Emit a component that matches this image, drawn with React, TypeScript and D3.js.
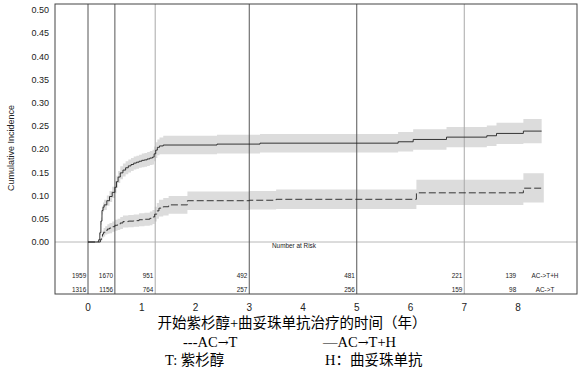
import React, { useRef, useEffect } from 'react';
import * as d3 from 'd3';

// AC->T+H (solid)
const thTime = [0, 0.19, 0.2, 0.22, 0.24, 0.26, 0.28, 0.3, 0.35, 0.4, 0.45, 0.5, 0.53, 0.56, 0.6, 0.65, 0.7, 0.75, 0.8, 0.85, 0.9, 0.95, 1.0, 1.05, 1.1, 1.15, 1.2, 1.23, 1.26, 1.29, 1.33, 1.4, 2.4, 3.2, 5.77, 6.05, 6.67, 7.42, 7.6, 8.1, 8.44];
const thCI = [0, 0.002, 0.005, 0.02, 0.045, 0.068, 0.075, 0.08, 0.089, 0.098, 0.107, 0.118, 0.13, 0.14, 0.149, 0.155, 0.16, 0.164, 0.167, 0.17, 0.172, 0.174, 0.176, 0.177, 0.179, 0.181, 0.183, 0.19, 0.198, 0.204, 0.207, 0.209, 0.211, 0.213, 0.216, 0.221, 0.226, 0.229, 0.234, 0.239, 0.239];
const thLow = [0, 0.001, 0.003, 0.015, 0.037, 0.059, 0.065, 0.069, 0.078, 0.086, 0.095, 0.105, 0.117, 0.127, 0.135, 0.141, 0.146, 0.15, 0.153, 0.156, 0.158, 0.16, 0.161, 0.162, 0.164, 0.166, 0.167, 0.174, 0.181, 0.187, 0.189, 0.189, 0.191, 0.193, 0.195, 0.199, 0.204, 0.207, 0.211, 0.213, 0.213];
const thHigh = [0, 0.003, 0.007, 0.025, 0.053, 0.077, 0.085, 0.091, 0.1, 0.11, 0.119, 0.131, 0.143, 0.153, 0.163, 0.169, 0.174, 0.178, 0.181, 0.184, 0.186, 0.188, 0.191, 0.192, 0.194, 0.196, 0.199, 0.206, 0.215, 0.221, 0.225, 0.229, 0.231, 0.233, 0.237, 0.243, 0.248, 0.251, 0.257, 0.265, 0.265];

// AC->T (dashed)
const tTime = [0, 0.23, 0.25, 0.27, 0.29, 0.32, 0.36, 0.4, 0.45, 0.5, 0.55, 0.6, 0.65, 0.75, 0.85, 0.95, 1.05, 1.15, 1.2, 1.24, 1.28, 1.32, 1.4, 1.5, 1.85, 3.0, 3.5, 6.11, 8.1, 8.48];
const tCI = [0, 0.005, 0.01, 0.017, 0.021, 0.025, 0.028, 0.03, 0.033, 0.036, 0.038, 0.041, 0.044, 0.045, 0.046, 0.048, 0.049, 0.051, 0.054, 0.06, 0.067, 0.073, 0.076, 0.08, 0.089, 0.09, 0.092, 0.106, 0.116, 0.116];
const tLow = [0, 0.002, 0.004, 0.009, 0.012, 0.016, 0.018, 0.019, 0.022, 0.024, 0.026, 0.028, 0.031, 0.032, 0.033, 0.034, 0.035, 0.036, 0.039, 0.044, 0.05, 0.055, 0.057, 0.061, 0.069, 0.07, 0.071, 0.08, 0.085, 0.085];
const tHigh = [0, 0.008, 0.016, 0.025, 0.03, 0.034, 0.038, 0.041, 0.044, 0.048, 0.05, 0.054, 0.057, 0.058, 0.059, 0.062, 0.063, 0.066, 0.069, 0.076, 0.084, 0.091, 0.095, 0.099, 0.109, 0.11, 0.113, 0.134, 0.148, 0.148];

// number at risk
const riskTimes = [0, 0.5, 1.25, 3, 5, 7, 8];
const riskTH = [1959, 1670, 951, 492, 481, 221, 139];
const riskT = [1316, 1156, 764, 257, 256, 159, 98];
const riskLines = [0, 0.5, 1.25, 3, 5, 7];
const riskLineDark = [true, true, false, true, true, false];

const yTicks = [0, 0.05, 0.1, 0.15, 0.2, 0.25, 0.3, 0.35, 0.4, 0.45, 0.5];
const xTicks = [0, 1, 2, 3, 4, 5, 6, 7, 8];

const App = () => {
  const svgRef = useRef<SVGSVGElement>(null);

  useEffect(() => {
    const svg = d3.select(svgRef.current);
    svg.selectAll('*').remove();

    const frame = { left: 55, right: 577, top: 4, bottom: 294 };
    const x = d3.scaleLinear().domain([0, 8]).range([88, 518]);
    const y = d3.scaleLinear().domain([0, 0.5]).range([242, 10]);
    const sans = 'Liberation Sans, Arial, sans-serif';
    const serif = '"Liberation Serif", "Times New Roman", "Noto Sans CJK SC", serif';

    // confidence bands
    const band = (time: number[], lo: number[], hi: number[]) => {
      const pts = time.map((t, i) => ({ t, lo: lo[i], hi: hi[i] }));
      svg.append('path')
        .attr('d', d3.area<any>().curve(d3.curveStepAfter)
          .x((d) => x(d.t)).y0((d) => y(d.lo)).y1((d) => y(d.hi))(pts))
        .attr('fill', '#dcdcdc');
    };
    band(thTime, thLow, thHigh);
    band(tTime, tLow, tHigh);

    // zero line
    svg.append('line')
      .attr('x1', frame.left).attr('x2', frame.right)
      .attr('y1', y(0)).attr('y2', y(0))
      .attr('stroke', '#b8b8b8').attr('stroke-width', 1);

    // risk-time lines
    riskLines.forEach((t, i) => {
      svg.append('line')
        .attr('x1', x(t)).attr('x2', x(t))
        .attr('y1', frame.top).attr('y2', frame.bottom)
        .attr('stroke', riskLineDark[i] ? '#555' : '#a8a8a8').attr('stroke-width', 1);
    });

    // curves
    const line = (time: number[], ci: number[], dash: string | null) => {
      const pts = time.map((t, i) => ({ t, v: ci[i] }));
      const p = svg.append('path')
        .attr('d', d3.line<any>().curve(d3.curveStepAfter).x((d) => x(d.t)).y((d) => y(d.v))(pts))
        .attr('fill', 'none').attr('stroke', '#222').attr('stroke-width', 0.9);
      if (dash) p.attr('stroke-dasharray', dash);
    };
    line(thTime, thCI, null);
    line(tTime, tCI, '7,3');

    // frame
    svg.append('rect')
      .attr('x', frame.left).attr('y', frame.top)
      .attr('width', frame.right - frame.left).attr('height', frame.bottom - frame.top)
      .attr('fill', 'none').attr('stroke', '#444').attr('stroke-width', 1);

    // y ticks
    svg.append('g').selectAll('text').data(yTicks).enter().append('text')
      .attr('x', 49).attr('y', (d) => y(d) + 3.2)
      .attr('text-anchor', 'end').attr('font-family', sans).attr('font-size', 9).attr('fill', '#222')
      .text((d) => d3.format('.2f')(d));

    svg.append('text')
      .attr('transform', 'translate(14,148) rotate(-90)')
      .attr('text-anchor', 'middle').attr('font-family', sans).attr('font-size', 9).attr('fill', '#222')
      .text('Cumulative Incidence');

    // x ticks
    svg.append('g').selectAll('text').data(xTicks).enter().append('text')
      .attr('x', (d) => x(d)).attr('y', 310.5)
      .attr('text-anchor', 'middle').attr('font-family', sans).attr('font-size', 10).attr('fill', '#222')
      .text((d) => d);

    // number at risk
    svg.append('text')
      .attr('x', 294).attr('y', 248).attr('text-anchor', 'middle')
      .attr('font-family', sans).attr('font-size', 6.4).attr('fill', '#222')
      .text('Number at Risk');

    const riskRow = (vals: number[], yy: number, label: string) => {
      vals.forEach((v, i) => {
        svg.append('text')
          .attr('x', x(riskTimes[i]) - 1.8).attr('y', yy).attr('text-anchor', 'end')
          .attr('font-family', sans).attr('font-size', 6.4).attr('fill', '#222')
          .text(v);
      });
      svg.append('text')
        .attr('x', 545).attr('y', yy).attr('text-anchor', 'middle')
        .attr('font-family', sans).attr('font-size', 6.4).attr('fill', '#222')
        .text(label);
    };
    riskRow(riskTH, 277.7, 'AC->T+H');
    riskRow(riskT, 292.3, 'AC->T');

    // captions; the arrow gets a font with a wider glyph
    const cap = (parts: string[], xx: number, yy: number, anchor: string) => {
      const t = svg.append('text')
        .attr('x', xx).attr('y', yy).attr('text-anchor', anchor)
        .attr('font-family', serif).attr('font-size', 14.5).attr('fill', '#000');
      parts.forEach((s) => {
        const sp = t.append('tspan').text(s);
        if (s === '→') sp.attr('font-family', '"DejaVu Serif", serif').attr('font-size', 13);
      });
    };
    cap(['开始紫杉醇+曲妥珠单抗治疗的时间（年）'], 292, 328, 'middle');
    cap(['---AC', '→', 'T'], 183, 346.5, 'start');
    cap(['—AC', '→', 'T+H'], 323, 346.5, 'start');
    cap(['T: 紫杉醇'], 165, 364.5, 'start');
    cap(['H：曲妥珠单抗'], 325, 364.5, 'start');
  }, []);

  return (
    <div>
      <svg ref={svgRef} width={587} height={370}
        style={{ position: 'absolute', left: 0, top: 0, background: '#fff' }}></svg>
    </div>
  );
};

export default App;
